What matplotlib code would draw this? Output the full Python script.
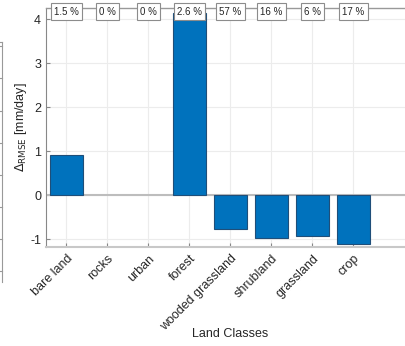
import numpy as np
import matplotlib
matplotlib.use("Agg")
import matplotlib.pyplot as plt
from matplotlib.lines import Line2D

plt.rcParams['font.family'] = ['Liberation Sans', 'DejaVu Sans']

# land classes and Delta RMSE values
classes = ['bare land', 'rocks', 'urban', 'forest', 'wooded grassland',
           'shrubland', 'grassland', 'crop']
delta_rmse = [0.9, 0.0, 0.0, 4.14, -0.78, -0.98, -0.93, -1.11]
shares = ['1.5 %', '0 %', '0 %', '2.6 %', '57 %', '16 %', '6 %', '17 %']
yticks = [-1, 0, 1, 2, 3, 4]

fig = plt.figure(figsize=(4.06, 3.46), dpi=100)
ax = fig.add_axes([46 / 406, 1 - 247 / 346, 369 / 406, 239 / 346])

x = np.arange(1, len(classes) + 1)
edge_w = [0.8 if v != 0 else 0 for v in delta_rmse]
ax.bar(x, delta_rmse, width=0.8, color='#0072BD', edgecolor='#1f4e79',
       linewidth=edge_w, zorder=3)
ax.axhline(0, color='#bdbdbd', lw=1.5, zorder=2)

ax.set_xlim(0.5, 9.5)
ax.set_ylim(-1.18, 4.25)
ax.set_xticks(x)
ax.set_xticklabels(classes, rotation=45, ha='right', rotation_mode='anchor')
ax.set_yticks(yticks)
ax.set_yticklabels([str(v) for v in yticks])
ax.tick_params(direction='in', length=3, colors='#888888', labelcolor='#262626',
               labelsize=9)
ax.tick_params(axis='x', pad=4)
ax.grid(True, color='#ececec', lw=0.8, zorder=0)
ax.set_axisbelow(True)
for side in ['top', 'right']:
    ax.spines[side].set_visible(False)
ax.spines['left'].set_color('#888888')
ax.spines['bottom'].set_color('#c8c8c8')
ax.spines['bottom'].set_linewidth(1.5)
ax.spines['left'].set_linewidth(0.8)
ax.axhline(4.25, color='#999999', lw=1.0, zorder=4, clip_on=False)

for xi, s in zip(x, shares):
    ax.text(xi, 4.17, s, ha='center', va='center', fontsize=7, color='#262626',
            zorder=6, clip_on=False,
            bbox=dict(boxstyle='square,pad=0.35', fc='white',
                      ec='#8c8c8c', lw=0.8))

ax.set_ylabel(r'$\Delta_{\mathrm{RMSE}}$ [mm/day]', fontsize=9, color='#262626')
ax.yaxis.set_label_coords(-0.047, 0.5)
ax.set_xlabel('Land Classes', fontsize=9, color='#262626')
ax.xaxis.set_label_coords(184 / 369, -(328 - 247) / 239)

# edge of the neighbouring panel on the left
fw, fh = 406, 346
fig.add_artist(Line2D([2.5 / fw, 2.5 / fw], [1 - 42 / fh, 1 - 282 / fh],
                      color='#999999', lw=0.8, transform=fig.transFigure))
fig.add_artist(Line2D([0, 2.5 / fw], [1 - 42 / fh, 1 - 42 / fh],
                      color='#999999', lw=0.8, transform=fig.transFigure))
for ty in [46, 78, 111, 143, 175, 207, 239, 271]:
    fig.add_artist(Line2D([0, 2.5 / fw], [1 - ty / fh, 1 - ty / fh],
                          color='#999999', lw=0.8, transform=fig.transFigure))

fig.savefig('out.png', dpi=100)
